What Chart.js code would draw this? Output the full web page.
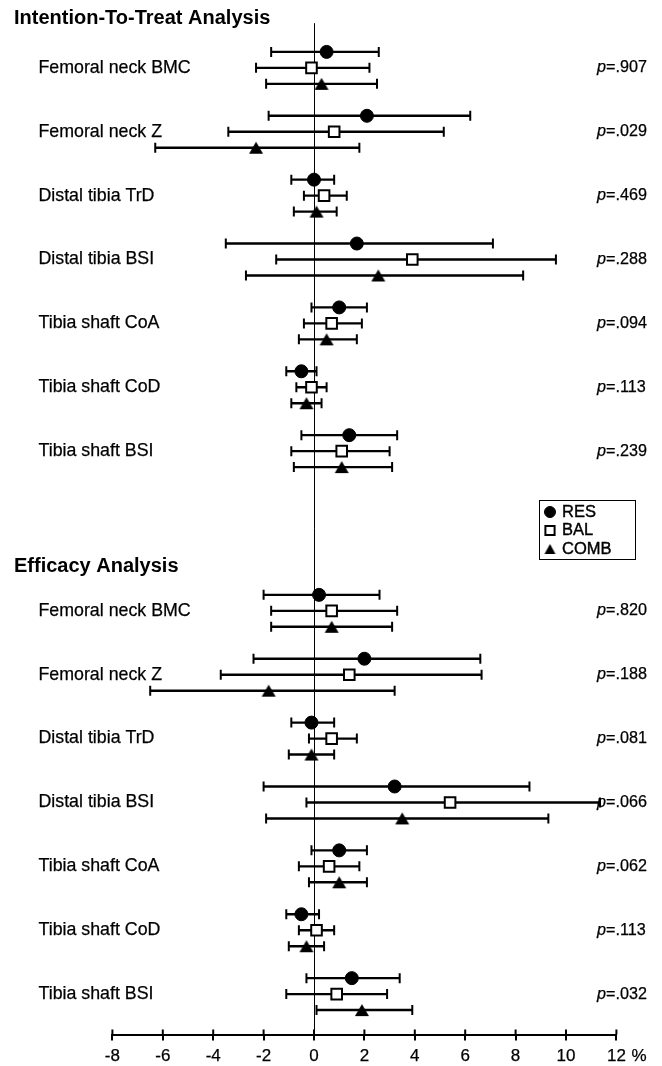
<!DOCTYPE html>
<html>
<head>
<meta charset="utf-8">
<script src="https://cdn.jsdelivr.net/npm/chart.js@4.4.1/dist/chart.umd.min.js"></script>
<style>
  html, body { margin: 0; padding: 0; background: #fff; }
  canvas { display: block; }
</style>
</head>
<body>
<canvas id="forest" width="662" height="1066"></canvas>
<script>
const measures = [
  'Femoral neck BMC',
  'Femoral neck Z',
  'Distal tibia TrD',
  'Distal tibia BSI',
  'Tibia shaft CoA',
  'Tibia shaft CoD',
  'Tibia shaft BSI'
];
const sections = ['Intention-To-Treat Analysis', 'Efficacy Analysis'];
const seriesNames = ['RES', 'BAL', 'COMB'];

// [estimate, lower CI, upper CI], % change
const ittRes = [[0.5, -1.7, 2.57], [2.1, -1.8, 6.2], [0.0, -0.9, 0.8], [1.7, -3.5, 7.1], [1.0, -0.1, 2.1], [-0.5, -1.1, 0.1], [1.4, -0.5, 3.3]];
const ittBal = [[-0.1, -2.3, 2.2], [0.8, -3.4, 5.15], [0.4, -0.4, 1.3], [3.9, -1.5, 9.6], [0.7, -0.4, 1.9], [-0.1, -0.7, 0.5], [1.1, -0.9, 3.0]];
const ittComb = [[0.3, -1.9, 2.5], [-2.3, -6.3, 1.8], [0.1, -0.8, 0.9], [2.55, -2.7, 8.3], [0.5, -0.6, 1.7], [-0.3, -0.9, 0.3], [1.1, -0.8, 3.1]];

const effRes = [[0.2, -2.0, 2.6], [2.0, -2.4, 6.6], [-0.1, -0.9, 0.8], [3.2, -2.0, 8.55], [1.0, -0.1, 2.1], [-0.5, -1.1, 0.2], [1.5, -0.3, 3.4]];
const effBal = [[0.7, -1.7, 3.3], [1.4, -3.7, 6.65], [0.7, -0.2, 1.7], [5.4, -0.3, 11.35], [0.6, -0.6, 1.8], [0.1, -0.6, 0.8], [0.9, -1.1, 2.9]];
const effComb = [[0.7, -1.7, 3.1], [-1.8, -6.5, 3.2], [-0.1, -1.0, 0.8], [3.5, -1.9, 9.3], [1.0, -0.2, 2.1], [-0.3, -1.0, 0.4], [1.9, 0.1, 3.9]];

const ittP = ['.907', '.029', '.469', '.288', '.094', '.113', '.239'];
const effP = ['.820', '.188', '.081', '.066', '.062', '.113', '.032'];

const xTicks = [-8, -6, -4, -2, 0, 2, 4, 6, 8, 10, 12];

const FONT = "'Liberation Sans', Arial, Helvetica, sans-serif";
const GROUP = 4;          // rows per measure block
const SECTION_START = [0, 34];
const TITLE_POS = [-3.1, 31.2];
const STROKE = 0.25;      // slight thickening, the scan is heavier than canvas text

function rowPos(sec, m, s) {
  return SECTION_START[sec] + m * GROUP + (s - 1);
}

// triangle centred on its row (built-in one sits too high)
function makeTriangle(w, h) {
  const c = document.createElement('canvas');
  c.width = w + 2;
  c.height = h + 2;
  const g = c.getContext('2d');
  g.fillStyle = '#000';
  g.beginPath();
  g.moveTo(c.width / 2, 1);
  g.lineTo(c.width - 1, h + 1);
  g.lineTo(1, h + 1);
  g.closePath();
  g.fill();
  return c;
}
const triBig = makeTriangle(14, 12);
const triSmall = makeTriangle(11, 10);

const bySeries = [[ittRes, effRes], [ittBal, effBal], [ittComb, effComb]];
const markStyles = [
  { pointStyle: 'circle', radius: 6.5, bg: '#000', bw: 1 },
  { pointStyle: 'rect', radius: 7.5, bg: '#fff', bw: 2 },
  { pointStyle: triBig, radius: 7, bg: '#000', bw: 0 }
];

const datasets = [];
bySeries.forEach((pair, s) => {
  const pts = [];
  const ci = [];
  pair.forEach((arr, sec) => {
    arr.forEach((v, m) => {
      const y = rowPos(sec, m, s);
      pts.push({ x: v[0], y: y });
      ci.push({ x: v[1], y: y }, { x: v[2], y: y }, { x: null, y: null });
    });
  });
  datasets.push({
    label: seriesNames[s] + ' CI',
    data: ci,
    showLine: true,
    spanGaps: false,
    borderColor: '#000',
    borderWidth: 2.4,
    pointStyle: 'line',
    rotation: 90,
    pointRadius: 5,
    pointBorderWidth: 2,
    pointBorderColor: '#000',
    order: 2
  });
  const st = markStyles[s];
  datasets.push({
    label: seriesNames[s],
    data: pts,
    pointStyle: st.pointStyle,
    pointRadius: st.radius,
    pointBackgroundColor: st.bg,
    pointBorderColor: '#000',
    pointBorderWidth: st.bw,
    order: 1
  });
});

function heavyText(ctx, txt, x, y) {
  ctx.fillText(txt, x, y);
  ctx.strokeText(txt, x, y);
}

const decor = {
  id: 'decor',
  beforeDatasetsDraw(chart) {
    const ctx = chart.ctx;
    const xs = chart.scales.x, ys = chart.scales.y;
    const x0 = Math.round(xs.getPixelForValue(0)) + 0.5;
    ctx.save();
    ctx.strokeStyle = '#000';
    ctx.lineWidth = 1;
    ctx.beginPath();
    ctx.moveTo(x0, ys.getPixelForValue(-2.8));
    ctx.lineTo(x0, chart.chartArea.bottom);
    ctx.stroke();
    ctx.restore();
  },
  afterDraw(chart) {
    const ctx = chart.ctx;
    const xs = chart.scales.x, ys = chart.scales.y;
    const axisY = chart.chartArea.bottom;
    ctx.save();
    ctx.fillStyle = '#000';
    ctx.strokeStyle = '#000';

    // tick marks above the axis line
    ctx.lineWidth = 2;
    xTicks.forEach(v => {
      const px = xs.getPixelForValue(v);
      ctx.beginPath();
      ctx.moveTo(px, axisY - 5);
      ctx.lineTo(px, axisY);
      ctx.stroke();
    });
    ctx.textBaseline = 'middle';
    ctx.textAlign = 'left';
    ctx.lineWidth = STROKE;
    ctx.font = '17px ' + FONT;
    heavyText(ctx, '%', xs.getPixelForValue(12) + 15, axisY + 22);

    // section titles, row labels, p values
    const pvals = [ittP, effP];
    sections.forEach((title, sec) => {
      ctx.font = 'bold 20px ' + FONT;
      ctx.fillText(title, 14, ys.getPixelForValue(TITLE_POS[sec]));
      measures.forEach((name, m) => {
        const y = ys.getPixelForValue(rowPos(sec, m, 1));
        ctx.font = '17.8px ' + FONT;
        heavyText(ctx, name, 38.5, y);
        ctx.font = 'italic 16.2px ' + FONT;
        heavyText(ctx, 'p', 597, y);
        const w = ctx.measureText('p').width;
        ctx.font = '16.2px ' + FONT;
        heavyText(ctx, '=' + pvals[sec][m], 597 + w, y);
      });
    });

    // legend box
    ctx.lineWidth = 1;
    ctx.strokeRect(539.5, 500.5, 96, 59);
    const legendSizes = [5.5, 6.5, 6];
    seriesNames.forEach((name, s) => {
      const y = 512 + s * 18.5;
      const st = markStyles[s];
      const style = s === 2 ? triSmall : st.pointStyle;
      ctx.fillStyle = st.bg;
      ctx.strokeStyle = '#000';
      ctx.lineWidth = st.bw;
      Chart.helpers.drawPoint(ctx, { pointStyle: style, radius: legendSizes[s], borderWidth: st.bw, rotation: 0 }, 550, y);
      ctx.fillStyle = '#000';
      ctx.lineWidth = 0.4;
      ctx.font = '16.5px ' + FONT;
      heavyText(ctx, name, 562, y);
    });
    ctx.restore();
  }
};

new Chart(document.getElementById('forest'), {
  type: 'scatter',
  data: { datasets: datasets },
  options: {
    responsive: false,
    animation: false,
    layout: { padding: { left: 112.4, right: 45.6, top: 0, bottom: 0 }, autoPadding: false },
    plugins: { legend: { display: false }, tooltip: { enabled: false } },
    scales: {
      x: {
        type: 'linear',
        min: -8,
        max: 12,
        afterBuildTicks: s => { s.ticks = xTicks.map(v => ({ value: v })); },
        afterFit: s => { s.height = 31.5; },
        border: { display: true, color: '#000', width: 2 },
        grid: { drawOnChartArea: false, color: '#000', lineWidth: 2, tickLength: 6 },
        ticks: {
          color: '#000',
          font: { family: FONT, size: 17 },
          padding: 6,
          maxRotation: 0,
          textStrokeColor: '#000',
          textStrokeWidth: STROKE
        }
      },
      y: {
        type: 'linear',
        display: false,
        reverse: true,
        min: -4.25,
        max: 60.53
      }
    }
  },
  plugins: [decor]
});
</script>
</body>
</html>
